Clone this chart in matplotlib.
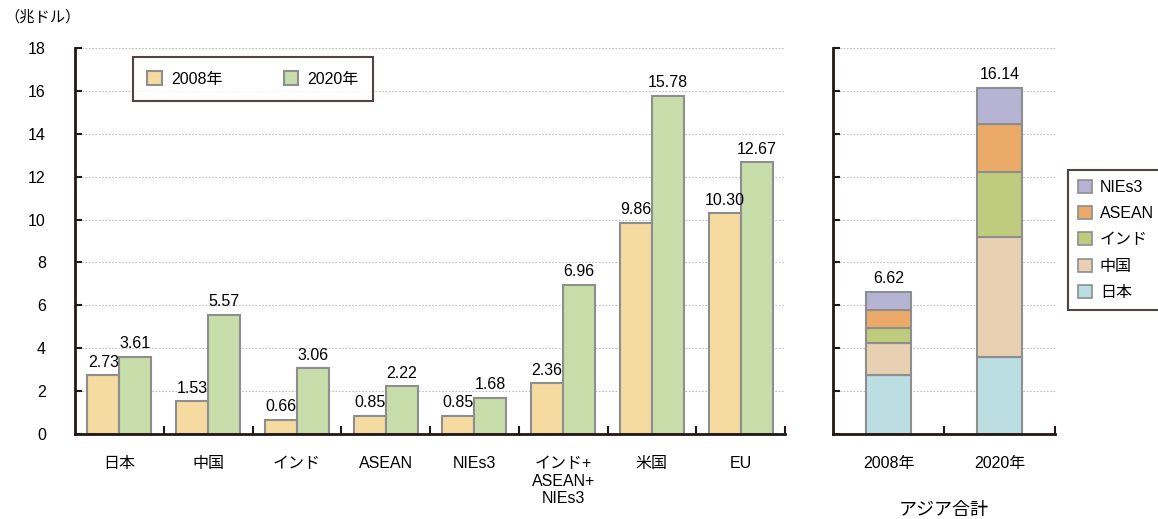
import matplotlib
matplotlib.use("Agg")
import matplotlib.pyplot as plt
from matplotlib.patches import Patch
import numpy as np

plt.rcParams['font.family'] = ['Liberation Sans', 'Noto Sans CJK JP', 'DejaVu Sans']

# GDP by region (trillion USD)
regions = ['日本', '中国', 'インド', 'ASEAN', 'NIEs3', 'インド+\nASEAN+\nNIEs3', '米国', 'EU']
gdp_2008 = [2.73, 1.53, 0.66, 0.85, 0.85, 2.36, 9.86, 10.30]
gdp_2020 = [3.61, 5.57, 3.06, 2.22, 1.68, 6.96, 15.78, 12.67]

# Asia total, stacked by member
asia_parts = ['日本', '中国', 'インド', 'ASEAN', 'NIEs3']
asia_2008 = [2.73, 1.53, 0.66, 0.85, 0.85]
asia_2020 = [3.61, 5.57, 3.06, 2.22, 1.68]
asia_years = ['2008年', '2020年']

yticks = [0, 2, 4, 6, 8, 10, 12, 14, 16, 18]

C2008 = '#F6DBA1'
C2020 = '#C7DDAA'
PART_COLORS = ['#BBDEE3', '#E8D0B3', '#BFCB7D', '#ECAA68', '#B6B3D5']
EDGE = '#8E8E8E'
FS = 11.5

W, H = 1158, 519
fig = plt.figure(figsize=(W / 100, H / 100), dpi=100)

ax = fig.add_axes([75 / W, 1 - 434 / H, 710 / W, 386 / H])
ax2 = fig.add_axes([833 / W, 1 - 434 / H, 222 / W, 386 / H])


def style_axis(a, ncat):
    a.set_ylim(0, 18)
    a.set_xlim(-0.5, ncat - 0.5)
    a.set_yticks(yticks)
    a.yaxis.grid(True, linestyle=(0, (1.5, 1.5)), color='#BDBDBD', linewidth=0.8)
    a.set_axisbelow(True)
    for s in ['top', 'right']:
        a.spines[s].set_visible(False)
    for s in ['left', 'bottom']:
        a.spines[s].set_linewidth(2)
        a.spines[s].set_color('#231815')
    a.tick_params(axis='y', direction='in', length=5, width=1.5, color='#231815',
                  labelsize=FS, pad=21)
    a.set_xticks(np.arange(ncat))
    a.tick_params(axis='x', which='major', length=0, labelsize=FS, pad=16)
    a.set_xticks(np.arange(ncat) + 0.5, minor=True)
    a.tick_params(axis='x', which='minor', direction='in', length=6, width=1.5,
                  color='#231815')


# left panel: grouped bars
style_axis(ax, len(regions))
x = np.arange(len(regions))
bw = 0.36
b1 = ax.bar(x - bw / 2, gdp_2008, bw, color=C2008, edgecolor=EDGE, linewidth=1.5,
            label='2008年')
b2 = ax.bar(x + bw / 2, gdp_2020, bw, color=C2020, edgecolor=EDGE, linewidth=1.5,
            label='2020年')
for bars, vals in [(b1, gdp_2008), (b2, gdp_2020)]:
    for rect, v in zip(bars, vals):
        ax.annotate(f'{v:.2f}', (rect.get_x() + rect.get_width() / 2, v),
                    xytext=(0, 4), textcoords='offset points',
                    ha='center', va='bottom', fontsize=FS)
ax.set_xticklabels(regions, va='top', linespacing=1.2)
for lbl in ax.get_yticklabels():
    lbl.set_horizontalalignment('right')

leg = ax.legend(loc='upper left', bbox_to_anchor=(58 / 710, 1 - 9 / 386), ncol=2,
                fontsize=FS, frameon=True, fancybox=False, borderpad=0.9,
                columnspacing=3.8, handlelength=0.9, handleheight=0.9,
                handletextpad=0.6, borderaxespad=0)
leg.get_frame().set_edgecolor('#231815')
leg.get_frame().set_linewidth(1.5)

# right panel: stacked Asia total
style_axis(ax2, 2)
ax2.set_yticklabels([])
x2 = np.arange(2)
bottoms = np.zeros(2)
handles = []
for name, v08, v20, col in zip(asia_parts, asia_2008, asia_2020, PART_COLORS):
    vals = np.array([v08, v20])
    ax2.bar(x2, vals, 0.4, bottom=bottoms, color=col, edgecolor=EDGE, linewidth=1.5)
    bottoms += vals
    handles.append(Patch(facecolor=col, edgecolor=EDGE, linewidth=1.2, label=name))
for xi, tot in zip(x2, bottoms):
    ax2.annotate(f'{tot:.2f}', (xi, tot), xytext=(0, 4), textcoords='offset points',
                 ha='center', va='bottom', fontsize=FS)
ax2.set_xticklabels(asia_years)

leg2 = ax2.legend(handles=handles[::-1], loc='upper left',
                  bbox_to_anchor=(235 / 222, 1 - 122 / 386), fontsize=FS,
                  frameon=True, fancybox=False, borderpad=0.6, labelspacing=0.7,
                  handlelength=0.9, handleheight=0.9, handletextpad=0.5,
                  borderaxespad=0)
leg2.get_frame().set_edgecolor('#231815')
leg2.get_frame().set_linewidth(1.5)

fig.text(944 / W, 1 - 510 / H, 'アジア合計', ha='center', va='center', fontsize=13)
fig.text(4 / W, 1 - 17 / H, '（兆ドル）', ha='left', va='center', fontsize=11)

fig.savefig('out.png', dpi=100)
